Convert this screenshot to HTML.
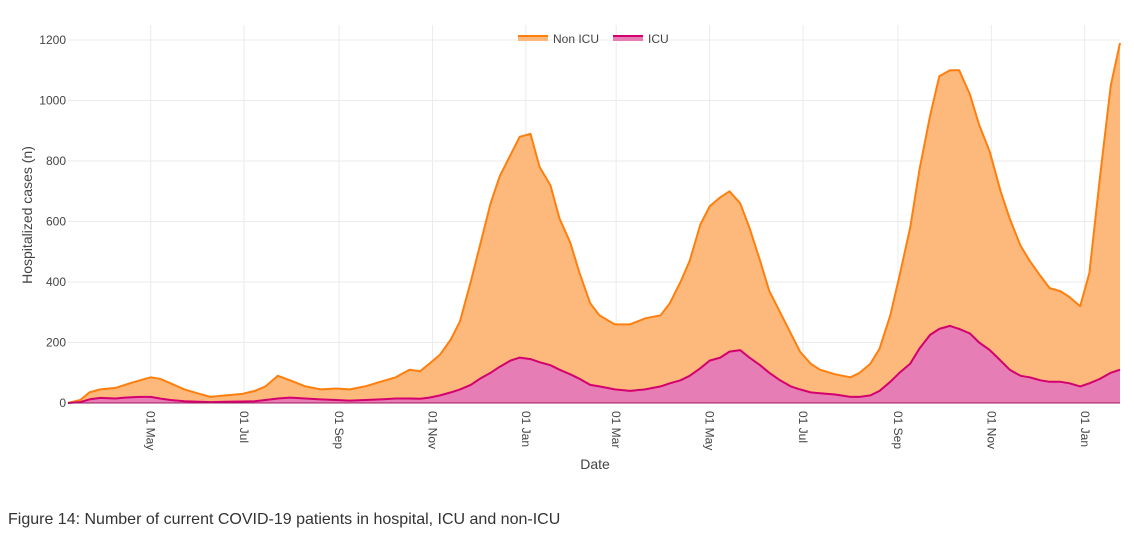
<!DOCTYPE html>
<html><head><meta charset="utf-8"><style>
body{margin:0;background:#fff;width:1134px;height:538px;overflow:hidden;font-family:"Liberation Sans",sans-serif}
svg text{font-family:"Liberation Sans",sans-serif}
</style></head><body>
<svg id="chart" width="1134" height="538">
<g id="grid"></g>
<g id="areas"></g>
<g id="axes"></g>
<g>
 <g>
  <rect x="518" y="35" width="30" height="6" fill="#fdb97c"/>
  <line x1="518" y1="36" x2="548" y2="36" stroke="#ff7f0e" stroke-width="2"/>
  <text x="553" y="43" font-size="12" fill="#444">Non ICU</text>
 </g>
 <g>
  <rect x="613" y="35" width="30" height="6" fill="#e77db5"/>
  <line x1="613" y1="36" x2="643" y2="36" stroke="#d4006e" stroke-width="2"/>
  <text x="648" y="43" font-size="12" fill="#444">ICU</text>
 </g>
</g>
<text x="595" y="469" font-size="14" fill="#444" text-anchor="middle">Date</text>
<text transform="translate(32,215) rotate(-90)" font-size="14" fill="#444" text-anchor="middle">Hospitalized cases (n)</text>
<text x="8" y="524" font-size="16" fill="#333">Figure 14: Number of current COVID-19 patients in hospital, ICU and non-ICU</text>
</svg>
<script>
const dates=["2020-03-08","2020-03-16","2020-03-22","2020-03-29","2020-04-08","2020-04-14","2020-04-24","2020-05-01","2020-05-07","2020-05-14","2020-05-23","2020-06-02","2020-06-09","2020-06-19","2020-06-30","2020-07-08","2020-07-15","2020-07-23","2020-07-31","2020-08-10","2020-08-20","2020-08-30","2020-09-08","2020-09-18","2020-09-28","2020-10-08","2020-10-17","2020-10-24","2020-10-30","2020-11-06","2020-11-13","2020-11-19","2020-11-26","2020-12-02","2020-12-09","2020-12-15","2020-12-22","2020-12-28","2021-01-04","2021-01-10","2021-01-17","2021-01-23","2021-01-30","2021-02-05","2021-02-12","2021-02-18","2021-02-28","2021-03-10","2021-03-20","2021-03-30","2021-04-05","2021-04-12","2021-04-18","2021-04-25","2021-05-01","2021-05-08","2021-05-14","2021-05-21","2021-05-27","2021-06-03","2021-06-09","2021-06-16","2021-06-23","2021-06-29","2021-07-06","2021-07-12","2021-07-22","2021-08-01","2021-08-07","2021-08-14","2021-08-20","2021-08-27","2021-09-02","2021-09-09","2021-09-15","2021-09-22","2021-09-28","2021-10-05","2021-10-11","2021-10-18","2021-10-24","2021-10-31","2021-11-07","2021-11-13","2021-11-20","2021-11-26","2021-12-03","2021-12-09","2021-12-16","2021-12-22","2021-12-29","2022-01-04","2022-01-11","2022-01-18","2022-01-24"];
const nonIcu=[0,10,35,45,50,60,75,85,80,65,45,30,20,25,30,40,55,90,75,55,45,48,45,55,70,85,110,105,130,160,210,270,400,520,660,750,820,880,890,780,720,610,530,430,330,290,260,260,280,290,330,400,470,590,650,680,700,660,580,470,370,300,230,170,130,110,95,85,100,130,180,290,420,580,770,950,1080,1100,1100,1020,920,830,700,610,520,470,420,380,370,350,320,430,750,1050,1190];
const icu=[0,3,12,17,15,18,20,20,15,10,6,4,3,4,5,6,10,15,18,15,12,10,8,10,12,15,15,14,18,25,35,45,60,80,100,120,140,150,145,135,125,110,95,80,60,55,45,40,45,55,65,75,90,115,140,150,170,175,150,125,100,75,55,45,35,32,28,20,20,25,40,70,100,130,180,225,245,255,245,230,200,175,140,110,90,85,75,70,70,65,55,65,80,100,110];
const yTicks=[0,200,400,600,800,1000,1200];
const xTickDates=["2020-05-01","2020-07-01","2020-09-01","2020-11-01","2021-01-01","2021-03-01","2021-05-01","2021-07-01","2021-09-01","2021-11-01","2022-01-01"];
const xTickLabels=["01 May","01 Jul","01 Sep","01 Nov","01 Jan","01 Mar","01 May","01 Jul","01 Sep","01 Nov","01 Jan"];

const NS="http://www.w3.org/2000/svg";
const t0=Date.parse("2020-03-08"),t1=Date.parse("2022-01-24");
const X0=68,X1=1120,Y0=403,Y1=40;
function xs(d){return X0+(Date.parse(d)-t0)/(t1-t0)*(X1-X0);}
function ys(v){return Y0-v/1200*(Y0-Y1);}
function mk(tag,attrs,parent){const e=document.createElementNS(NS,tag);for(const k in attrs)e.setAttribute(k,attrs[k]);parent.appendChild(e);return e;}
const grid=document.getElementById('grid'),axes=document.getElementById('axes'),areas=document.getElementById('areas');
yTicks.forEach(v=>{
 const l=mk('line',{x1:X0,x2:X1,y1:ys(v),y2:ys(v),stroke:'#ebebeb','stroke-width':1},grid);
 
 
 const t=mk('text',{x:X0-2,y:ys(v)+4,'font-size':12,fill:'#444','text-anchor':'end'},axes);
 t.textContent=v;
 
 
});
xTickDates.forEach((d,i)=>{
 const x=xs(d);
 const l=mk('line',{x1:x,x2:x,y1:Y1-15,y2:Y0,stroke:'#ebebeb','stroke-width':1},grid);
 
 
 const t=mk('text',{transform:`translate(${x-4},${Y0+8}) rotate(90)`,'font-size':12,fill:'#444'},axes);
 t.textContent=xTickLabels[i];
 
 
});
function area(vals,fill,stroke,name){
 const pts=dates.map((d,i)=>xs(d).toFixed(1)+','+ys(vals[i]).toFixed(1));
 const a=mk('path',{d:`M${xs(dates[0])},${Y0}L${pts.join('L')}L${xs(dates[dates.length-1])},${Y0}Z`,fill:fill},areas);
 
 
 const l=mk('path',{d:'M'+pts.join('L'),fill:'none',stroke:stroke,'stroke-width':2,'stroke-linejoin':'round'},areas);
 
 
}
area(nonIcu,'#fdb97c','#ff7f0e','non-icu');
area(icu,'#e77db5','#d4006e','icu');
const base=mk('line',{x1:X0,x2:X1,y1:Y0,y2:Y0,stroke:'#9c1a5e','stroke-width':1},axes);


</script>
</body></html>
